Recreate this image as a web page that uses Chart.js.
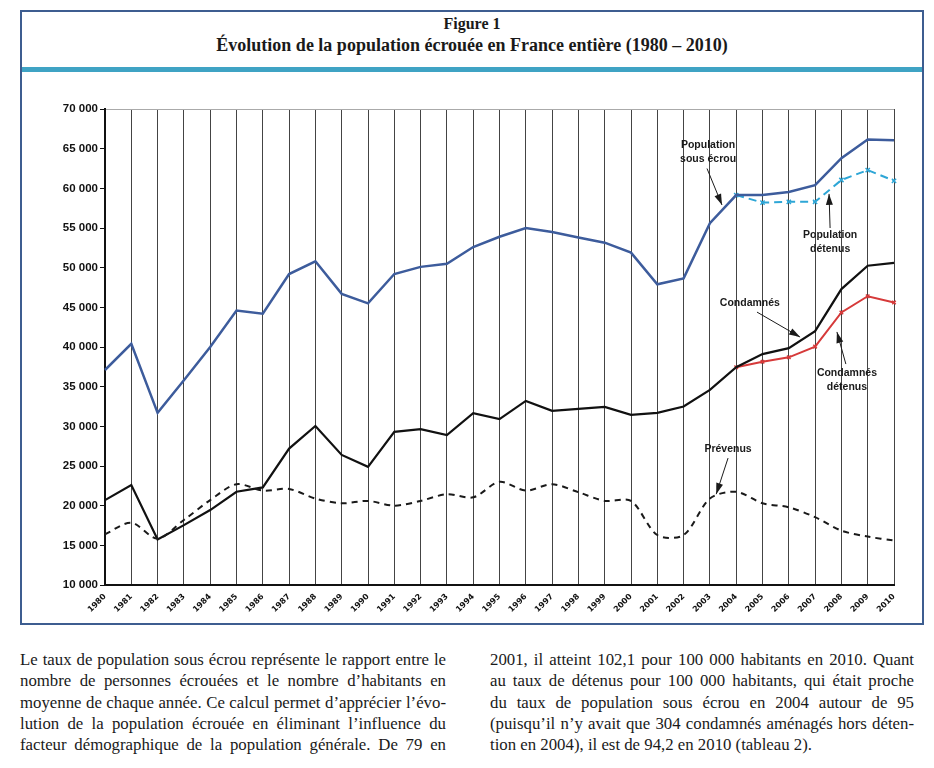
<!DOCTYPE html>
<html lang="fr">
<head>
<meta charset="utf-8">
<script src="https://cdn.jsdelivr.net/npm/chart.js@4.4.0/dist/chart.umd.min.js"></script>
<style>
  body { margin: 0; background: #fff; width: 934px; height: 768px; position: relative; overflow: hidden; font-family: "Liberation Serif", serif; color: #1a1a1a; }
  #frame { position: absolute; left: 20px; top: 10px; width: 900px; height: 611px; border: 2px solid #3d5d90; }
  .title { position: absolute; left: 20px; width: 904px; text-align: center; font-weight: bold; line-height: 20px; }
  #t1 { top: 14px; font-size: 16px; }
  #t2 { top: 35px; font-size: 18px; }
  #bar { position: absolute; left: 22px; top: 67px; width: 900px; height: 5px; background: #3fa3c4; }
  #box { position: absolute; left: 22px; top: 90px; width: 900px; height: 530px; }
  .col { position: absolute; top: 649px; font-size: 16.8px; line-height: 21.3px; }
  .col div { text-align: justify; text-align-last: justify; white-space: nowrap; }
  .col div.last { text-align-last: left; }
  #c1 { left: 20px; width: 426px; }
  #c2 { left: 490px; width: 424px; }
</style>
</head>
<body>
<div id="frame"></div>
<div class="title" id="t1">Figure 1</div>
<div class="title" id="t2">Évolution de la population écrouée en France entière (1980 – 2010)</div>
<div id="bar"></div>
<div id="box"><canvas id="chart"></canvas></div>

<div class="col" id="c1">
  <div>Le taux de population sous écrou représente le rapport entre le</div>
  <div>nombre de personnes écrouées et le nombre d’habitants en</div>
  <div>moyenne de chaque année. Ce calcul permet d’apprécier l’évo-</div>
  <div>lution de la population écrouée en éliminant l’influence du</div>
  <div>facteur démographique de la population générale. De 79 en</div>
</div>
<div class="col" id="c2">
  <div>2001, il atteint 102,1 pour 100 000 habitants en 2010. Quant</div>
  <div>au taux de détenus pour 100 000 habitants, qui était proche</div>
  <div>du taux de population sous écrou en 2004 autour de 95</div>
  <div>(puisqu’il n’y avait que 304 condamnés aménagés hors déten-</div>
  <div class="last">tion en 2004), il est de 94,2 en 2010 (tableau 2).</div>
</div>

<script>
// ===== DATA =====
const years = ["1980", "1981", "1982", "1983", "1984", "1985", "1986", "1987", "1988", "1989",
  "1990", "1991", "1992", "1993", "1994", "1995", "1996", "1997", "1998", "1999",
  "2000", "2001", "2002", "2003", "2004", "2005", "2006", "2007", "2008", "2009", "2010"];

const sousEcrou = [37100, 40400, 31700, 35800, 40000, 44600, 44200, 49200, 50800, 46700,
  45500, 49200, 50100, 50500, 52600, 53900, 55000, 54500, 53800, 53150,
  51900, 47900, 48650, 55600, 59150, 59150, 59550, 60400, 63800, 66150, 66050];

const detenus = [null, null, null, null, null, null, null, null, null, null,
  null, null, null, null, null, null, null, null, null, null,
  null, null, null, null, 59150, 58200, 58300, 58300, 61050, 62300, 60950];

const condamnes = [20700, 22600, 15750, 17550, 19450, 21750, 22300, 27200, 30050, 26400,
  24900, 29300, 29650, 28900, 31650, 30900, 33200, 31950, 32200, 32450,
  31450, 31700, 32500, 34600, 37450, 39100, 39850, 42000, 47300, 50250, 50600];

const condamnesDetenus = [null, null, null, null, null, null, null, null, null, null,
  null, null, null, null, null, null, null, null, null, null,
  null, null, null, null, 37450, 38150, 38700, 40050, 44350, 46400, 45600];

const prevenus = [16400, 17850, 15850, 18200, 20700, 22700, 21900, 22100, 20900, 20300,
  20600, 20000, 20600, 21450, 21050, 23000, 21900, 22700, 21700, 20600,
  20600, 16300, 16300, 20900, 21750, 20300, 19800, 18550, 16850, 16100, 15600];

// labels with arrows, placed in data units (year, value)
const notes = [
  { lines: ["Population", "sous écrou"], at: [2002.93, 65460], from: [2002.89, 62500], to: [2003.46, 57900] },
  { lines: ["Population", "détenus"], at: [2007.57, 54120], from: [2007.57, 55000], to: [2007.53, 59300] },
  { lines: ["Condamnés"], at: [2004.52, 45550], from: [2004.79, 44400], to: [2006.43, 41250] },
  { lines: ["Condamnés", "détenus"], at: [2008.21, 36720], from: [2008.17, 37850], to: [2007.83, 41900] },
  { lines: ["Prévenus"], at: [2003.69, 27140], from: [2003.69, 26000], to: [2003.24, 21450] },
];

function fmt(v) {
  return String(v).replace(/\B(?=(\d{3})+(?!\d))/g, " ");
}

// ===== NOTES PLUGIN =====
const notesPlugin = {
  id: "notes",
  afterDatasetsDraw(chart) {
    const c = chart.ctx;
    const xs = chart.scales.x, ys = chart.scales.y;
    const px = (p) => [xs.getPixelForValue(p[0] - 1980), ys.getPixelForValue(p[1])];
    c.save();
    c.fillStyle = "#1a1a1a";
    c.strokeStyle = "#1a1a1a";
    c.font = "bold 10.5px 'Liberation Sans', Arial, sans-serif";
    c.textAlign = "center";
    c.textBaseline = "middle";
    notes.forEach(n => {
      const [tx, ty] = px(n.at);
      n.lines.forEach((l, i) => c.fillText(l, tx, ty + i * 14));
      const [x0, y0] = px(n.from);
      const [x1, y1] = px(n.to);
      c.lineWidth = 1;
      c.beginPath();
      c.moveTo(x0, y0);
      c.lineTo(x1, y1);
      c.stroke();
      const a = Math.atan2(y1 - y0, x1 - x0);
      c.beginPath();
      c.moveTo(x1, y1);
      c.lineTo(x1 - 11 * Math.cos(a) + 3.5 * Math.sin(a), y1 - 11 * Math.sin(a) - 3.5 * Math.cos(a));
      c.lineTo(x1 - 11 * Math.cos(a) - 3.5 * Math.sin(a), y1 - 11 * Math.sin(a) + 3.5 * Math.cos(a));
      c.closePath();
      c.fill();
    });
    c.restore();
  }
};

// ===== CHART =====
const ctx = document.getElementById("chart").getContext("2d");
new Chart(ctx, {
  type: "line",
  data: {
    labels: years,
    datasets: [
      {
        label: "Prévenus",
        data: prevenus,
        borderColor: "#1a1a1a",
        borderWidth: 2,
        borderDash: [6, 5],
        pointRadius: 0,
        tension: 0.3,
      },
      {
        label: "Condamnés",
        data: condamnes,
        borderColor: "#111",
        borderWidth: 2.2,
        pointRadius: 0,
        tension: 0,
      },
      {
        label: "Condamnés détenus",
        data: condamnesDetenus,
        borderColor: "#d63a3a",
        borderWidth: 2,
        pointStyle: "crossRot",
        pointRadius: 2.5,
        pointBorderWidth: 1.5,
        pointBorderColor: "#d63a3a",
        tension: 0,
      },
      {
        label: "Population sous écrou",
        data: sousEcrou,
        borderColor: "#3d5c9c",
        borderWidth: 2.5,
        pointRadius: 0,
        tension: 0,
      },
      {
        label: "Population détenus",
        data: detenus,
        borderColor: "#2ea6d6",
        borderWidth: 2,
        borderDash: [8, 5],
        pointStyle: "crossRot",
        pointRadius: 3,
        pointBorderWidth: 1.5,
        pointBorderColor: "#2ea6d6",
        tension: 0,
      },
    ],
  },
  options: {
    responsive: true,
    maintainAspectRatio: false,
    animation: false,
    layout: {
      padding: { top: 19, right: 28, left: 0, bottom: 0 },
    },
    scales: {
      x: {
        type: "category",
        offset: false,
        afterFit(s) { s.height = 35; },
        grid: {
          color: "#444",
          lineWidth: 1,
          drawTicks: false,
        },
        border: { color: "#111", width: 2 },
        ticks: {
          autoSkip: false,
          minRotation: 45,
          maxRotation: 45,
          padding: 7,
          color: "#111",
          font: { family: "'DejaVu Sans', sans-serif", size: 8, weight: "bold" },
        },
      },
      y: {
        min: 10000,
        max: 70000,
        afterFit(s) { s.width = 83; },
        grid: {
          color: (c) => (c.tick && c.tick.value === 70000 ? "#aaa" : "rgba(0,0,0,0)"),
          tickColor: "#111",
          tickLength: 5,
        },
        border: { color: "#111", width: 2 },
        ticks: {
          stepSize: 5000,
          padding: 2,
          color: "#111",
          font: { family: "'Liberation Sans', Arial, sans-serif", size: 11.5, weight: "bold" },
          callback: (v) => fmt(v),
        },
      },
    },
    plugins: {
      legend: { display: false },
      tooltip: { enabled: false },
    },
  },
  plugins: [notesPlugin],
});
</script>
</body>
</html>
